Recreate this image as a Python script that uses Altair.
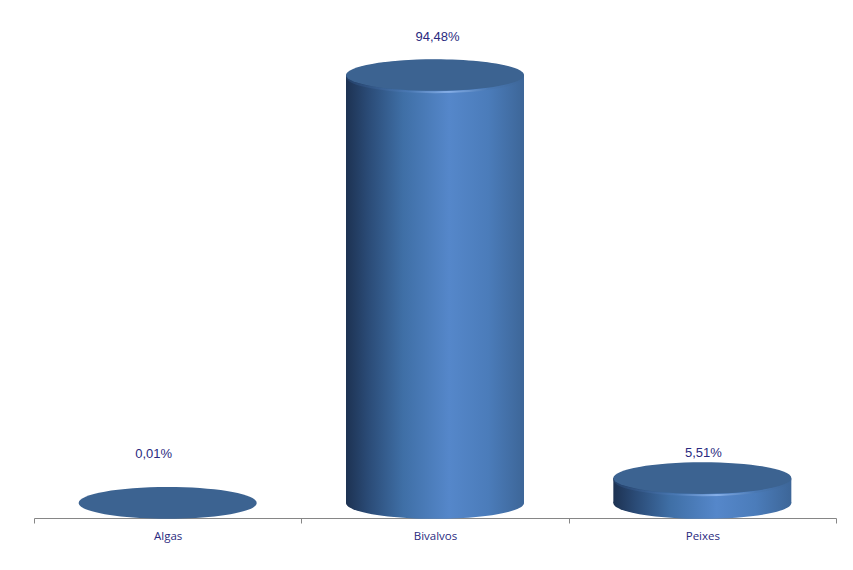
import altair as alt
import pandas as pd

categories = ["Algas", "Bivalvos", "Peixes"]
values = [0.01, 94.48, 5.51]
labels = ["0,01%", "94,48%", "5,51%"]
label_dy = [-49, -38, -25]
label_dx = [-14, 2.5, 1]

df = pd.DataFrame({"cat": categories, "value": values, "label": labels, "base": [0, 0, 0]})

ELLIPSE = "M-1,0 A1,0.178 0 1,1 1,0 A1,0.178 0 1,1 -1,0 Z"
SIZE = 178 ** 2

side = alt.Gradient(
    gradient="linear", x1=0, x2=1, y1=0, y2=0,
    stops=[
        alt.GradientStop(offset=0, color="#1d3252"),
        alt.GradientStop(offset=0.12, color="#2a4a75"),
        alt.GradientStop(offset=0.32, color="#3f6fa6"),
        alt.GradientStop(offset=0.58, color="#5587ca"),
        alt.GradientStop(offset=0.8, color="#4b7cba"),
        alt.GradientStop(offset=1, color="#3d6698"),
    ],
)
rim = alt.Gradient(
    gradient="linear", x1=0, x2=1, y1=0, y2=0,
    stops=[
        alt.GradientStop(offset=0, color="#24416a"),
        alt.GradientStop(offset=0.35, color="#4a79b4"),
        alt.GradientStop(offset=0.58, color="#86afe8"),
        alt.GradientStop(offset=0.8, color="#4a79b4"),
        alt.GradientStop(offset=1, color="#3d6698"),
    ],
)

x = alt.X(
    "cat:N",
    sort=categories,
    title=None,
    scale=alt.Scale(padding=0),
    axis=alt.Axis(
        labelAngle=0, labelColor="#2a2a80", labelFont="Open Sans", labelFontSize=11.5,
        labelPadding=7, domainColor="#868686", tickColor="#868686", tickSize=5,
        tickBand="extent", domainWidth=1, tickWidth=1,
    ),
)
yscale = alt.Scale(domain=[-3.31, 100], nice=False, zero=False)
y = alt.Y("value:Q", title=None, scale=yscale, axis=None)

base = alt.Chart(df).encode(x=x)
tall = df[df["value"] > 1]

bottom = alt.Chart(tall).mark_point(shape=ELLIPSE, size=SIZE, filled=True, fill=side, opacity=1).encode(
    x=x, y=alt.Y("base:Q", scale=yscale, axis=None, title=None))
bar = alt.Chart(tall).mark_bar(fill=side, size=178).encode(x=x, y=y, y2=alt.Y2("base:Q"))
top = base.mark_point(shape=ELLIPSE, size=SIZE, filled=True, fill="#3c6391", opacity=1).encode(y=y)
edge = alt.Chart(tall).mark_point(
    shape=ELLIPSE, size=176 ** 2, filled=False, stroke=rim, strokeWidth=2, opacity=1
).encode(x=x, y=y, yOffset=alt.value(1.5))

texts = [
    alt.Chart(df[df["cat"] == c]).mark_text(
        dy=d, dx=e, font="Liberation Sans", fontSize=13, color="#2a2a80"
    ).encode(x=x, y=y, text="label:N")
    for c, d, e in zip(categories, label_dy, label_dx)
]

chart = alt.layer(bottom, bar, edge, top, *texts).properties(
    width=802,
    height=468,
    padding={"left": 26, "top": 42, "right": 9, "bottom": 40},
    autosize=alt.AutoSizeParams(type="none"),
    background="white",
).configure_view(stroke=None)

chart.save("out.html", embed_options={"renderer": "svg", "actions": False})
